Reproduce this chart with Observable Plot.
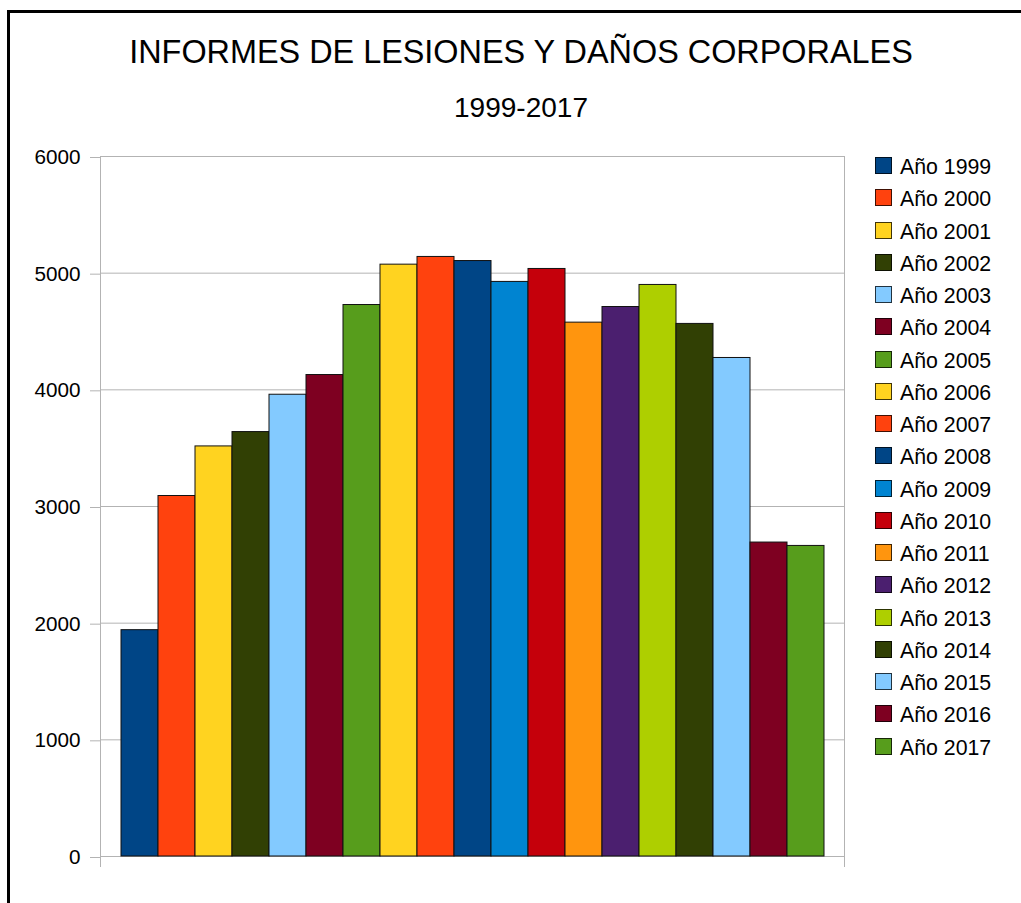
<!DOCTYPE html>
<html>
<head>
<meta charset="utf-8">
<script src="https://cdn.jsdelivr.net/npm/d3@7"></script>
<script src="https://cdn.jsdelivr.net/npm/@observablehq/plot@0.6"></script>
<style>
  html, body { margin: 0; padding: 0; background: #fff; overflow: hidden; }
  #wrap { position: relative; width: 1021px; height: 903px; overflow: hidden; background: #fff;
          font-family: "Liberation Sans", Arial, sans-serif; color: #000; }
  #border { position: absolute; left: 7px; top: 10px; width: 1200px; height: 1200px;
            border-left: 3px solid #000; border-top: 3px solid #000; }
  .ttl { position: absolute; left: 0; width: 1042px; text-align: center; white-space: nowrap; }
  #title { font-size: 32.4px; top: 32px; line-height: 40px; }
  #subtitle { font-size: 28px; top: 90px; line-height: 36px; }
  #chart { position: absolute; left: 0; top: 0; }
  .lg { position: absolute; left: 875px; height: 17px; white-space: nowrap; }
  .lg .sw { position: absolute; left: 0; top: 0; width: 17px; height: 17px; box-sizing: border-box;
            border: 1px solid rgba(0,0,0,0.75); }
  .lg .tx { position: absolute; left: 25px; top: -4px; font-size: 21.3px; line-height: 28px; }
</style>
</head>
<body>
<div id="wrap">
  <div id="border"></div>
  <div id="title" class="ttl"></div>
  <div id="subtitle" class="ttl"></div>
  <div id="chart"></div>
  <div id="legend"></div>
</div>
<script>
const titleText = "INFORMES DE LESIONES Y DAÑOS CORPORALES";
const subtitleText = "1999-2017";
const years = [1999, 2000, 2001, 2002, 2003, 2004, 2005, 2006, 2007, 2008,
               2009, 2010, 2011, 2012, 2013, 2014, 2015, 2016, 2017];
const seriesLabels = years.map(y => "Año " + y);
const values = [1940, 3090, 3515, 3638, 3958, 4127, 4727, 5073, 5139, 5104,
                4925, 5036, 4576, 4710, 4899, 4565, 4273, 2691, 2662];
const colors = ["#004586", "#ff420e", "#ffd320", "#314004", "#83caff", "#7e0021", "#579d1c",
                "#ffd320", "#ff420e", "#004586", "#0084d1", "#c5000b", "#ff950e", "#4b1f6f",
                "#aecf00", "#314004", "#83caff", "#7e0021", "#579d1c"];
const yTicks = [0, 1000, 2000, 3000, 4000, 5000, 6000];

const data = years.map((y, i) => ({label: seriesLabels[i], value: values[i], color: colors[i]}));

document.getElementById("title").textContent = titleText;
document.getElementById("subtitle").textContent = subtitleText;

const gridColor = "#b3b3b3";

// frame lines (left/right edges of plot area, extending down like category boundary ticks)
function frameEdges(index, scales, values, dims) {
  const g = d3.create("svg:g");
  const x0 = dims.marginLeft + 0.5, x1 = dims.width - dims.marginRight + 0.5;
  const yTop = dims.marginTop, yBot = dims.height - dims.marginBottom + 11;
  for (const x of [x0, x1]) {
    g.append("line").attr("x1", x).attr("x2", x).attr("y1", yTop).attr("y2", yBot)
      .attr("stroke", gridColor).attr("stroke-width", 1);
  }
  return g.node();
}

const plot = Plot.plot({
  width: 1021,
  height: 903,
  marginLeft: 100,
  marginRight: 177,
  marginTop: 156,
  marginBottom: 47,
  style: {fontFamily: "'Liberation Sans', Arial, sans-serif", fontSize: "20.7px", color: "#000", background: "transparent"},
  x: {type: "band", domain: seriesLabels, paddingInner: 0, paddingOuter: 0.5, axis: null},
  y: {domain: [0, 6000], axis: null},
  marks: [
    Plot.gridY(yTicks, {stroke: gridColor, strokeOpacity: 1}),
    Plot.axisY(yTicks, {tickSize: 10, tickPadding: 10, stroke: gridColor, strokeOpacity: 1, fill: "#000",
                        tickFormat: d3.format("d"), label: null, dy: 1}),
    frameEdges,
    Plot.barY(data, {x: "label", y: "value", fill: "color", stroke: "#111", strokeWidth: 1, inset: 0})
  ]
});
document.getElementById("chart").appendChild(plot);

// legend
const legend = document.getElementById("legend");
seriesLabels.forEach((lab, i) => {
  const row = document.createElement("div");
  row.className = "lg";
  row.style.top = (157 + i * 32.25) + "px";
  const sw = document.createElement("span");
  sw.className = "sw";
  sw.style.background = colors[i];
  const tx = document.createElement("span");
  tx.className = "tx";
  tx.textContent = lab;
  row.appendChild(sw);
  row.appendChild(tx);
  legend.appendChild(row);
});
</script>
</body>
</html>
